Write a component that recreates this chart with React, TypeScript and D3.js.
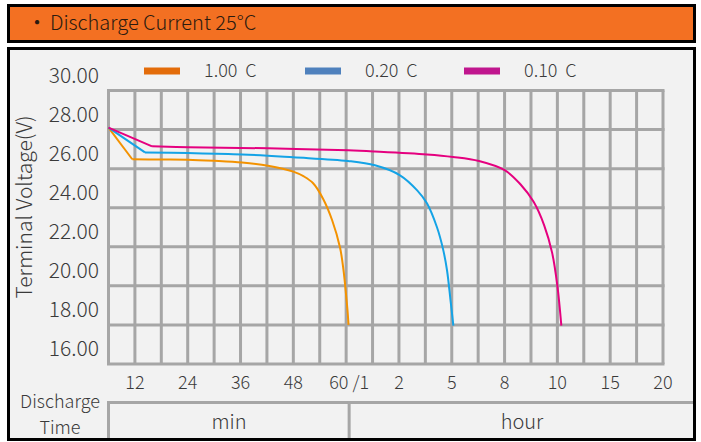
import React from "react";
import * as d3 from "d3";

// x positions are in grid-column units of the time axis (0 = origin, 9 = 60 min / 1 h)
const xTickLabels = ["12", "24", "36", "48", "60 /1", "2", "5", "8", "10", "15", "20"];
const yTicks = [16, 18, 20, 22, 24, 26, 28, 30];

const orange1C: [number, number][] = [
  [0, 28.1], [0.9, 26.48], [2, 26.47], [3, 26.46], [4, 26.4], [5.06, 26.31],
  [6.04, 26.15], [7.0, 25.85], [7.4, 25.6], [7.75, 25.25], [8.13, 24.45],
  [8.47, 23.36], [8.77, 21.95], [8.9, 20.8], [9.0, 19.5], [9.06, 18.6], [9.09, 18.0],
];

const blue02C: [number, number][] = [
  [0, 28.1], [1.38, 26.83], [3, 26.8], [5.06, 26.73], [7.0, 26.58], [9.07, 26.39],
  [10.09, 26.17], [11.04, 25.66], [11.69, 24.89], [12.06, 24.23], [12.44, 23.0],
  [12.67, 21.88], [12.82, 20.8], [12.95, 19.3], [13.06, 17.96],
];

const pink01C: [number, number][] = [
  [0, 28.1], [1.65, 27.14], [3.01, 27.1], [6.04, 27.04], [9.07, 26.94], [10.09, 26.88],
  [12.06, 26.73], [13.05, 26.6], [14.03, 26.39], [15.02, 25.91], [15.6, 25.2],
  [16.1, 24.3], [16.5, 23.1], [16.8, 21.7], [17.0, 20.0], [17.15, 17.96],
];

const series = [
  { label: "1.00  C", data: orange1C, line: "#F39200", swatch: "#E36C0A" },
  { label: "0.20  C", data: blue02C, line: "#14A3E6", swatch: "#4F81BD" },
  { label: "0.10  C", data: pink01C, line: "#E5007F", swatch: "#C0168E" },
];

const font = "'Noto Sans CJK SC', 'Noto Sans', sans-serif";
const textColor = "#3a3a3a";
const gridColor = "#A6A6A6";

export default function App() {
  const x = d3.scaleLinear().domain([0, 21]).range([108.5, 663]);
  const y = d3.scaleLinear().domain([16, 30]).range([364, 90.5]);

  // the first drop is a straight segment with a sharp corner, the rest is smooth
  const head = d3
    .line<[number, number]>()
    .x((d) => x(d[0]))
    .y((d) => y(d[1]));
  const tail = d3
    .line<[number, number]>()
    .x((d) => x(d[0]))
    .y((d) => y(d[1]))
    .curve(d3.curveCatmullRom.alpha(0.5));

  const cols = d3.range(0, 22);
  const legendX = [144, 305, 464];

  return (
    <svg
      width={701}
      height={442}
      style={{ position: "absolute", left: 0, top: 0, fontFamily: font }}
    >
      <rect width={701} height={442} fill="white" />

      {/* header bar */}
      <rect x={8.5} y={5.5} width={686} height={36} fill="#F37022" stroke="black" strokeWidth={3} />
      <text x={27} y={30} fontSize={20} fill="#2a1a10">·</text>
      <text x={50} y={30} fontSize={20} fontWeight={300} fill="#2a1a10">
        Discharge Current 25°C
      </text>

      {/* chart panel */}
      <rect x={8.5} y={48.5} width={686} height={391} fill="#F2F2F2" stroke="black" strokeWidth={3} />

      {/* legend */}
      {series.map((s, i) => (
        <g key={s.label}>
          <rect x={legendX[i]} y={67.5} width={36} height={7} fill={s.swatch} />
          <text
            x={legendX[i] + 60}
            y={77}
            fontSize={18}
            fontWeight={300}
            fill={textColor}
            style={{ whiteSpace: "pre" }}
          >
            {s.label}
          </text>
        </g>
      ))}

      {/* grid */}
      <g stroke={gridColor} strokeWidth={3}>
        {yTicks.map((v) => (
          <line key={"h" + v} x1={x(0) - 1.5} x2={x(21) + 1.5} y1={y(v)} y2={y(v)} />
        ))}
        {cols.map((c) => (
          <line key={"v" + c} x1={x(c)} x2={x(c)} y1={y(30)} y2={y(16)} />
        ))}
      </g>

      {/* y tick labels (sit above their grid line, as in the source) */}
      {yTicks.map((v) => (
        <text
          key={"yl" + v}
          x={99}
          y={y(v) - 8}
          textAnchor="end"
          fontSize={21}
          fontWeight={300}
          fill={textColor}
        >
          {v.toFixed(2)}
        </text>
      ))}

      <text
        transform="translate(32,207) rotate(-90)"
        textAnchor="middle"
        fontSize={21}
        fontWeight={300}
        fill={textColor}
      >
        Terminal Voltage(V)
      </text>

      {/* x tick labels */}
      {xTickLabels.map((t, i) => (
        <text
          key={"xl" + t}
          x={x(i * 2 + 1) + (i === 4 ? 3 : 0)}
          y={389}
          textAnchor="middle"
          fontSize={18}
          fontWeight={300}
          fill={textColor}
          style={{ whiteSpace: "pre" }}
        >
          {t}
        </text>
      ))}

      {/* discharge time units */}
      <g stroke={gridColor} strokeWidth={3}>
        <line x1={x(0) - 1.5} x2={693} y1={402.5} y2={402.5} />
        <line x1={x(0)} x2={x(0)} y1={401} y2={438} />
        <line x1={x(9) + 3} x2={x(9) + 3} y1={401} y2={438} />
      </g>
      <text x={60} y={408} textAnchor="middle" fontSize={18} fontWeight={300} fill={textColor}>
        Discharge
      </text>
      <text x={60} y={434} textAnchor="middle" fontSize={18} fontWeight={300} fill={textColor}>
        Time
      </text>
      <text x={229} y={429} textAnchor="middle" fontSize={20} fontWeight={300} fill={textColor}>
        min
      </text>
      <text x={522} y={429} textAnchor="middle" fontSize={20} fontWeight={300} fill={textColor}>
        hour
      </text>

      {/* curves */}
      {series.map((s) => (
        <g key={"c" + s.label} fill="none" stroke={s.line} strokeWidth={2} strokeLinejoin="round">
          <path d={head(s.data.slice(0, 2)) ?? ""} />
          <path d={tail(s.data.slice(1)) ?? ""} />
        </g>
      ))}
    </svg>
  );
}
